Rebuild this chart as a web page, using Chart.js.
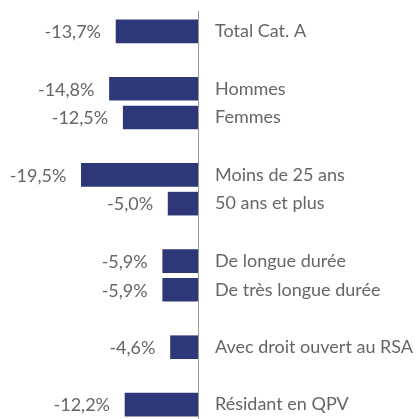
<!DOCTYPE html>
<html lang="fr">
<head>
  <meta charset="UTF-8">
  <title>Évolution des demandeurs d'emploi</title>
  <script src="https://cdn.jsdelivr.net/npm/chart.js"></script>
  <style>
    body {
      margin: 0;
      padding: 0;
      background-color: #fff;
    }
    canvas {
      display: block;
    }
  </style>
</head>
<body>
  <canvas id="chart" width="420" height="419"></canvas>

  <script>
    // Catégories (les chaînes vides servent d'espacement entre les groupes)
    const categories = [
      'Total Cat. A', '',
      'Hommes', 'Femmes', '',
      'Moins de 25 ans', '50 ans et plus', '',
      'De longue durée', 'De très longue durée', '',
      'Avec droit ouvert au RSA', '',
      'Résidant en QPV'
    ];
    const evolution = [
      -13.7, null,
      -14.8, -12.5, null,
      -19.5, -5.0, null,
      -5.9, -5.9, null,
      -4.6, null,
      -12.2
    ];

    const barColor = '#2e3878';
    const textColor = '#666666';
    const font = 'Lato, "Noto Sans", sans-serif';

    // Étiquettes de valeur à gauche des barres
    const valueLabels = {
      id: 'valueLabels',
      afterDatasetsDraw(chart) {
        const ctx = chart.ctx;
        const meta = chart.getDatasetMeta(0);
        ctx.save();
        ctx.font = '18px ' + font;
        ctx.fillStyle = textColor;
        ctx.textAlign = 'right';
        ctx.textBaseline = 'middle';
        meta.data.forEach((bar, i) => {
          const v = evolution[i];
          if (v === null) return;
          const txt = v.toFixed(1).replace('.', ',') + '%';
          ctx.fillText(txt, bar.x - 15, bar.y + 1);
        });
        ctx.restore();
      }
    };

    // Ligne de l'axe (un peu plus haute que la zone du graphique)
    const axisLine = {
      id: 'axisLine',
      afterDraw(chart) {
        const ctx = chart.ctx;
        const x = Math.round(chart.chartArea.right) + 0.5;
        ctx.save();
        ctx.strokeStyle = '#999999';
        ctx.lineWidth = 1;
        ctx.beginPath();
        ctx.moveTo(x, 11);
        ctx.lineTo(x, chart.height);
        ctx.stroke();
        ctx.restore();
      }
    };

    new Chart(document.getElementById('chart'), {
      type: 'bar',
      data: {
        labels: categories,
        datasets: [{
          data: evolution,
          backgroundColor: barColor,
          barThickness: 23
        }]
      },
      options: {
        indexAxis: 'y',
        responsive: false,
        animation: false,
        layout: {
          padding: { top: 17, bottom: -2, left: 0, right: 0 }
        },
        plugins: {
          legend: { display: false },
          tooltip: { enabled: false }
        },
        scales: {
          x: {
            display: false,
            min: -33.1,
            max: 0
          },
          y: {
            position: 'right',
            grid: { display: false, drawTicks: false },
            border: { display: false },
            ticks: {
              color: textColor,
              padding: 17,
              autoSkip: false,
              font: { family: font, size: 18 }
            },
            afterFit(scale) {
              scale.width = 222;
              scale.paddingTop = 0;
              scale.paddingBottom = 0;
            }
          }
        }
      },
      plugins: [valueLabels, axisLine]
    });
  </script>
</body>
</html>
